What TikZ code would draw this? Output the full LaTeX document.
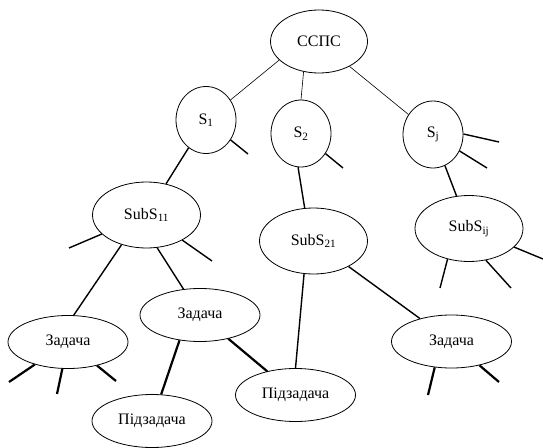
\documentclass[tikz,border=0pt]{standalone}
\usepackage{fontspec}
\setmainfont{Liberation Serif}
\usetikzlibrary{shapes.geometric}

\begin{document}
\begin{tikzpicture}[
        x=1pt, y=-1pt,
        every node/.style={font=\fontsize{16}{19}\selectfont},
        oval/.style={ellipse, draw, line width=0.8pt, inner sep=0pt},
        rootnode/.style={oval, minimum width=97pt, minimum height=63pt},
        sysnode/.style={oval, minimum width=60pt, minimum height=67pt},
        subnode/.style={oval, minimum width=108pt, minimum height=66pt},
        tasknode/.style={oval, minimum width=120pt, minimum height=53pt},
        thinlink/.style={line width=0.6pt},
        link/.style={line width=1.4pt},
        heavylink/.style={line width=2.2pt}
    ]
    \useasboundingbox (0,0) rectangle (543,447);

    % nodes
    \node[rootnode] (cc) at (319,41.5) {ССПС};
    \node[sysnode] (s1) at (206,120) {S\textsubscript{1}};
    \node[sysnode] (s2) at (301,133.5) {S\textsubscript{2}};
    \node[sysnode] (sj) at (433,134.5) {S\textsubscript{j}};
    \node[subnode] (sub11) at (146.5,215) {SubS\textsubscript{11}};
    \node[subnode] (sub21) at (313.5,241) {SubS\textsubscript{21}};
    \node[subnode] (subij) at (469,228.5) {SubS\textsubscript{ij}};
    \node[tasknode] (task1) at (68,342) {Задача};
    \node[tasknode] (task2) at (200,315) {Задача};
    \node[tasknode] (task3) at (451.5,341.5) {Задача};
    \node[tasknode] (part1) at (152,421) {Підзадача};
    \node[tasknode] (part2) at (295.5,395) {Підзадача};

    % free ends of the stubs
    \coordinate (s1e) at (248,154);
    \coordinate (s2e) at (343,168);
    \coordinate (sje1) at (499,142);
    \coordinate (sje2) at (487,168);
    \coordinate (sub11e1) at (69,248);
    \coordinate (sub11e2) at (212,261);
    \coordinate (subije1) at (440,288);
    \coordinate (subije2) at (511,288);
    \coordinate (subije3) at (543,259);
    \coordinate (task1e1) at (9,382);
    \coordinate (task1e2) at (57,394);
    \coordinate (task1e3) at (116,381);
    \coordinate (task3e1) at (428,395);
    \coordinate (task3e2) at (499,382);

    % links
    \draw[thinlink] (cc.205) -- (s1);
    \draw[thinlink] (cc.243) -- (s2.north);
    \draw[thinlink] (cc) -- (sj);
    \draw[link] (s1) -- (sub11);
    \draw[link] (s2.265) -- (sub21.105);
    \draw[link] (sj) -- (subij);
    \draw[link] (sub11.230) -- (task1.78);
    \draw[link] (sub11.288) -- (task2);
    \draw[link] (sub21.254) -- (part2.north);
    \draw[link] (sub21) -- (task3);
    \draw[heavylink] (task2.231) -- (part1.71);
    \draw[heavylink] (task2) -- (part2);

    % stubs
    \draw[link] (s1) -- (s1e);
    \draw[link] (s2) -- (s2e);
    \draw[link] (sj.1) -- (sje1);
    \draw[link] (sj) -- (sje2);
    \draw[link] (sub11) -- (sub11e1);
    \draw[link] (sub11) -- (sub11e2);
    \draw[link] (subij.235) -- (subije1);
    \draw[link] (subij.298) -- (subije2);
    \draw[link] (subij) -- (subije3);
    \draw[heavylink] (task1) -- (task1e1);
    \draw[heavylink] (task1) -- (task1e2);
    \draw[heavylink] (task1) -- (task1e3);
    \draw[heavylink] (task3.237) -- (task3e1);
    \draw[heavylink] (task3) -- (task3e2);
\end{tikzpicture}
\end{document}
